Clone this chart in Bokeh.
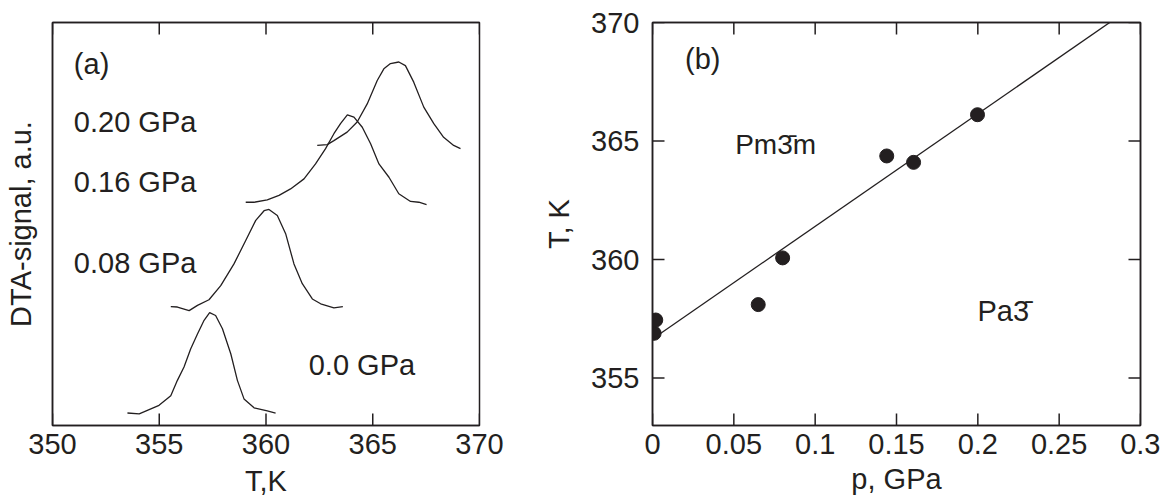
import math
from bokeh.plotting import figure
from bokeh.layouts import row
from bokeh.models import LinearAxis, FixedTicker, Range1d, Label
from bokeh.embed import file_html
from bokeh.resources import INLINE

# ---------------- data: panel (a), DTA curves ----------------
dta_labels = ["0.0 GPa", "0.08 GPa", "0.16 GPa", "0.20 GPa"]

T_000 = [353.51, 354.06, 354.99, 355.54, 355.85, 356.16, 356.47, 356.79, 357.10, 357.36,
         357.64, 357.96, 358.35, 358.66, 358.97, 359.44, 360.06, 360.45]
S_000 = [0.31, 0.29, 0.50, 0.74, 1.12, 1.45, 1.90, 2.27, 2.61, 2.80,
         2.73, 2.40, 1.78, 1.12, 0.66, 0.44, 0.36, 0.31]

T_008 = [355.54, 355.85, 356.40, 356.79, 357.33, 357.88, 358.50, 359.05, 359.52, 359.91,
         360.14, 360.53, 360.92, 361.31, 361.70, 362.17, 362.56, 363.18, 363.60]
S_008 = [2.95, 2.94, 2.85, 2.98, 3.12, 3.47, 4.01, 4.59, 5.09, 5.33,
         5.36, 5.21, 4.76, 4.01, 3.52, 3.14, 3.02, 2.92, 2.95]

T_016 = [359.05, 359.44, 360.06, 360.61, 361.15, 361.78, 362.32, 362.79, 363.18, 363.49,
         363.81, 364.12, 364.51, 364.90, 365.29, 365.76, 366.22, 366.77, 367.16, 367.52]
S_016 = [5.54, 5.54, 5.60, 5.71, 5.87, 6.12, 6.49, 6.87, 7.24, 7.49,
         7.71, 7.65, 7.40, 6.99, 6.49, 6.16, 5.75, 5.56, 5.54, 5.48]

T_020 = [362.40, 362.87, 363.18, 363.80, 364.27, 364.74, 365.21, 365.52, 365.83, 366.22,
         366.53, 366.92, 367.39, 367.86, 368.32, 368.79, 369.11]
S_020 = [6.95, 6.97, 7.07, 7.28, 7.53, 7.98, 8.56, 8.85, 8.98, 9.02,
         8.93, 8.52, 7.90, 7.49, 7.15, 6.95, 6.87]

x_ticks_a = [350, 355, 360, 365, 370]
x_range_a = (350, 370)
y_range_a = (0, 10)

# ---------------- data: panel (b), phase boundary ----------------
p_gpa = [0.001, 0.002, 0.065, 0.080, 0.144, 0.1605, 0.1998]
T_trans = [356.89, 357.45, 358.10, 360.07, 364.37, 364.10, 366.11]
fit_intercept = 356.65   # K
fit_slope = 47.5         # K/GPa
fit_p = [0.0, 0.3]
fit_T = [fit_intercept + fit_slope * v for v in fit_p]

x_ticks_b = [0, 0.05, 0.1, 0.15, 0.2, 0.25, 0.3]
x_tick_labels_b = ["0", "0.05", "0.1", "0.15", "0.2", "0.25", "0.3"]
y_ticks_b = [355, 360, 365, 370]
x_range_b = (0, 0.3)
y_range_b = (353, 370)
phase_labels = ["Pm3\u0304m", "Pa3\u0304"]

# ---------------- styling ----------------
FONT = "Liberation Sans"
INK = "#231f20"
FS = "29px"
TICK_LEN = 24   # dash marker length; half of it lies inside the frame


def style_axis(ax, show_labels=True):
    ax.axis_line_color = INK
    ax.axis_line_width = 1.5
    ax.major_tick_in = 0
    ax.major_tick_out = 0
    ax.major_tick_line_color = INK
    ax.minor_tick_line_color = None
    ax.major_label_text_font = FONT
    ax.major_label_text_color = INK
    ax.major_label_text_line_height = 1.0
    ax.axis_label_text_font = FONT
    ax.axis_label_text_font_size = FS
    ax.axis_label_text_font_style = "normal"
    ax.axis_label_text_color = INK
    ax.axis_label_text_line_height = 1.0
    if show_labels:
        ax.major_label_text_font_size = FS
    else:
        ax.major_label_text_font_size = "1px"
        ax.major_label_standoff = 0


def bare_axis(ticks):
    ax = LinearAxis(ticker=FixedTicker(ticks=ticks),
                    major_label_overrides={t: "" for t in ticks})
    style_axis(ax, show_labels=False)
    return ax


def inward_ticks(p, xs, ys, vertical):
    p.scatter(xs, ys, marker="dash", size=TICK_LEN,
              angle=(math.pi / 2 if vertical else 0.0),
              line_color=INK, line_width=1.5)


def ann(p, x, y, text, size=FS):
    p.add_layout(Label(x=x, y=y, text=text, text_font=FONT, text_font_size=size,
                       text_color=INK, text_align="left", text_baseline="middle"))


def base_figure(width, xr, yr, border_left, border_right, xlabel, ylabel):
    p = figure(width=width, height=504, x_range=Range1d(*xr), y_range=Range1d(*yr),
               output_backend="svg", toolbar_location=None,
               min_border_left=border_left, min_border_right=border_right,
               min_border_top=22, min_border_bottom=79,
               x_axis_label=xlabel, y_axis_label=ylabel)
    p.grid.visible = False
    p.outline_line_color = INK
    p.outline_line_width = 1.5
    p.outline_line_alpha = 1.0
    p.background_fill_color = "white"
    p.border_fill_color = "white"
    return p


# ---------------- panel (a) ----------------
p1 = base_figure(540, x_range_a, y_range_a, 52, 61, "T,K", "DTA-signal, a.u.")
p1.xaxis.ticker = FixedTicker(ticks=x_ticks_a)
p1.yaxis.ticker = FixedTicker(ticks=[])
for ax in p1.xaxis + p1.yaxis:
    style_axis(ax)
p1.xaxis.major_label_standoff = 8
p1.xaxis.axis_label_standoff = 8
p1.yaxis.major_label_standoff = 0
p1.yaxis.axis_label_standoff = 16
p1.add_layout(bare_axis(x_ticks_a), "above")

inward_ticks(p1, x_ticks_a, [y_range_a[0]] * len(x_ticks_a), True)
inward_ticks(p1, x_ticks_a, [y_range_a[1]] * len(x_ticks_a), True)

for T, S in [(T_000, S_000), (T_008, S_008), (T_016, S_016), (T_020, S_020)]:
    p1.line(T, S, line_color=INK, line_width=1.3)

ann(p1, 351.0, 8.96, "(a)")
ann(p1, 351.0, 7.54, dta_labels[3])
ann(p1, 351.0, 6.05, dta_labels[2])
ann(p1, 351.0, 4.02, dta_labels[1])
ann(p1, 362.0, 1.51, dta_labels[0])

# ---------------- panel (b) ----------------
p2 = base_figure(620, x_range_b, y_range_b, 112, 20, "p, GPa", "T, K")
p2.xaxis.ticker = FixedTicker(ticks=x_ticks_b)
p2.xaxis.major_label_overrides = dict(zip(x_ticks_b, x_tick_labels_b))
p2.yaxis.ticker = FixedTicker(ticks=y_ticks_b)
for ax in p2.xaxis + p2.yaxis:
    style_axis(ax)
p2.xaxis.major_label_standoff = 8
p2.xaxis.axis_label_standoff = 6
p2.yaxis.major_label_standoff = 13
p2.yaxis.axis_label_standoff = 13
p2.add_layout(bare_axis(x_ticks_b), "above")
p2.add_layout(bare_axis(y_ticks_b), "right")

inward_ticks(p2, x_ticks_b, [y_range_b[0]] * len(x_ticks_b), True)
inward_ticks(p2, x_ticks_b, [y_range_b[1]] * len(x_ticks_b), True)
inward_ticks(p2, [x_range_b[0]] * len(y_ticks_b), y_ticks_b, False)
inward_ticks(p2, [x_range_b[1]] * len(y_ticks_b), y_ticks_b, False)

p2.line(fit_p, fit_T, line_color=INK, line_width=1.3)
p2.scatter(p_gpa, T_trans, size=14, fill_color=INK, line_color=INK)

ann(p2, 0.0200, 368.48, "(b)")
ann(p2, 0.0508, 364.84, phase_labels[0], "28px")
ann(p2, 0.1998, 357.82, phase_labels[1])

layout = row(p1, p2)
open("out.html", "w").write(file_html(layout, INLINE))
